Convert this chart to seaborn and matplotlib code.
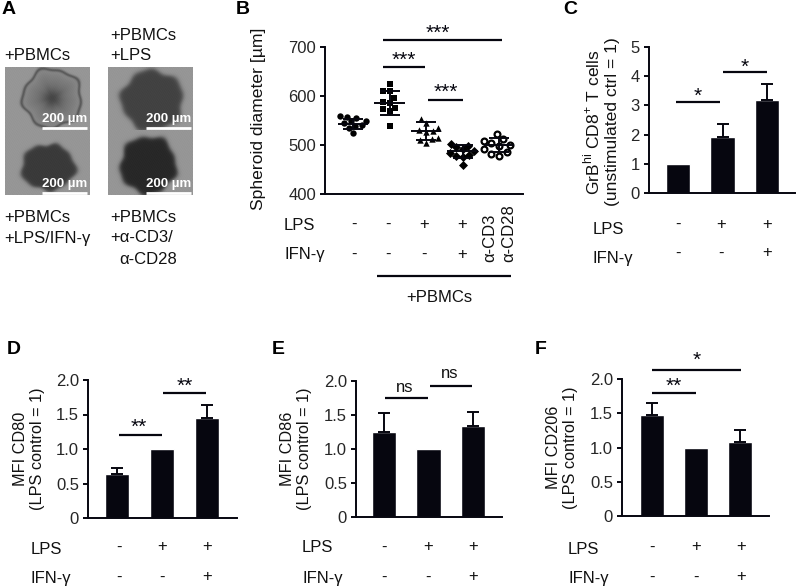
import matplotlib

matplotlib.use("Agg")
import matplotlib.pyplot as plt
import numpy as np
import pandas as pd
import seaborn as sns

# Panel B: spheroid diameters
spheroid_groups = ["ctrl", "pbmc", "lps", "lps_ifn", "cd3_cd28"]
ctrl_um = [560, 558, 556, 550, 548, 545, 540, 538, 535, 525]
pbmc_um = [624, 610, 610, 595, 588, 585, 576, 574, 570, 539]
lps_um = [553, 545, 535, 530, 528, 527, 515, 512, 510, 505]
lps_ifn_um = [503, 498, 495, 492, 488, 483, 480, 478, 476, 460]
cd3_um = [522, 512, 508, 505, 500, 498, 492, 485, 482, 478]
spheroid_means = [543, 586, 528, 487, 500]
spheroid_sds = [10, 25, 18, 14, 14]

# Bar panels: mean and upper error
bar_groups = ["ctrl", "lps", "lps_ifn"]
grb_vals = [1.0, 1.93, 3.2]
grb_err = [0.0, 0.44, 0.54]
cd80_vals = [0.64, 1.0, 1.45]
cd80_err = [0.08, 0.0, 0.19]
cd86_vals = [1.25, 1.0, 1.34]
cd86_err = [0.28, 0.0, 0.21]
cd206_vals = [1.48, 1.0, 1.08]
cd206_err = [0.17, 0.0, 0.17]

lps_row = ["-", "+", "+"]
ifn_row = ["-", "-", "+"]
lps_row_b = ["-", "-", "+", "+"]
ifn_row_b = ["-", "-", "-", "+"]

INK = "#06060f"
FS = 12

sns.set_theme(style="ticks")
plt.rcParams["font.family"] = ["Liberation Sans", "DejaVu Sans"]
plt.rcParams["mathtext.fontset"] = "custom"
plt.rcParams["mathtext.rm"] = "Liberation Sans"
plt.rcParams["axes.edgecolor"] = INK
plt.rcParams["text.color"] = "#111111"

W, H = 796, 588
fig = plt.figure(figsize=(W / 100, H / 100), dpi=100)

# full-figure axes in pixel coordinates for annotations
overlay = fig.add_axes([0, 0, 1, 1])
overlay.axis("off")


def put(x, y, s, size=FS, ha="left", **kw):
    overlay.text(x, y, s, fontsize=size, ha=ha, va="center", **kw)


def rule(x0, x1, y, lw=1.6):
    overlay.plot([x0, x1], [y, y], color=INK, linewidth=lw, solid_capstyle="butt")


def stars(x, y, s):
    # asterisks sit high in the em box, so push them down
    overlay.text(x, y + 3, s, fontsize=15, ha="center", va="center", color=INK)


def panel_axes(left, right, top, bottom):
    ax = fig.add_axes([left / W, 1 - bottom / H, (right - left) / W, (bottom - top) / H])
    ax.patch.set_alpha(0)
    sns.despine(ax=ax)
    for side in ("left", "bottom"):
        ax.spines[side].set_linewidth(1.4)
    ax.tick_params(axis="y", labelsize=FS, length=3.5, width=1.4, color=INK, pad=3)
    ax.tick_params(axis="x", bottom=False, labelbottom=False)
    ax.set_xlabel("")
    return ax


def micrograph(x0, x1, y0, y1, cx, cy, rx, ry, core, rim=False):
    xs, ys = np.meshgrid(np.arange(x0, x1, 0.5), np.arange(y0, y1, 0.5))
    ang = np.arctan2(ys - cy, xs - cx)
    rad = np.hypot((xs - cx) / rx, (ys - cy) / ry)
    rad = rad * (1 + 0.05 * np.sin(5 * ang + cx) + 0.03 * np.sin(9 * ang + cy))
    grain = 9 * np.sin(xs * 2.3 + ys * 1.1) * np.sin(ys * 2.9 - xs * 0.7)
    inside = 0.5 - 0.5 * np.tanh((rad - 1) * 12)
    img = 150 + grain + inside * (core - 150)
    if rim:
        img = img + 30 * np.clip(rad, 0, 1) ** 2 * inside - 55 * np.exp(-((rad - 0.97) / 0.05) ** 2)
        img = img - 40 * np.exp(-(rad / 0.3) ** 2)
    overlay.imshow(img, extent=(x0, x1, y1, y0), cmap="gray", vmin=0, vmax=255, aspect="auto",
                   interpolation="bilinear")


def bar_panel(box, centers, vals, errs, ylabel, label_x, label_y=None, label_size=11.7):
    left, right, top, bottom = box
    ax = panel_axes(left, right, top, bottom)
    df = pd.DataFrame({"group": bar_groups, "value": vals})
    sns.barplot(data=df, x="group", y="value", order=bar_groups, color=INK, saturation=1,
                width=0.55, errorbar=None, ax=ax)
    # the reference bar (err 0) carries no whisker
    with_err = [i for i, e in enumerate(errs) if e > 0]
    ax.errorbar(with_err, [vals[i] for i in with_err],
                yerr=[[0] * len(with_err), [errs[i] for i in with_err]],
                fmt="none", ecolor=INK, elinewidth=1.4, capsize=4, capthick=1.4)
    step = (centers[2] - centers[0]) / 2
    ax.set_xlim((left - centers[0]) / step, (right - centers[0]) / step)
    ax.set_xlabel("")
    ax.set_ylabel("")
    if label_y is None:
        label_y = (top + bottom) / 2
    overlay.text(label_x, label_y, ylabel, rotation=90, fontsize=label_size, ha="center",
                 va="center", linespacing=1.2)
    return ax


# Panel A
micrograph(5, 90, 67, 130, 52, 98, 30, 30, 110, rim=True)
micrograph(108, 193, 67, 130, 152, 100, 31, 30, 66)
micrograph(5, 90, 130, 195, 48, 167, 27, 23, 58)
micrograph(108, 193, 130, 195, 148, 165, 28, 29, 40)
for px, py in [(42, 119), (146, 119), (42, 184), (146, 184)]:
    put(px, py, "200 µm", size=9.5, color="white", fontweight="bold")
    overlay.plot([px, px + 45], [py + 9, py + 9], color="white", linewidth=2, solid_capstyle="butt")
put(4, 55, "+PBMCs")
put(110, 36, "+PBMCs")
put(110, 55, "+LPS")
put(4, 217, "+PBMCs")
put(4, 238, "+LPS/IFN-γ")
put(110, 217, "+PBMCs")
put(110, 238, "+α-CD3/")
put(119, 259, "α-CD28")

# Panel B
ax_b = panel_axes(325, 523, 47, 194)
spheroid = pd.DataFrame(
    {"group": np.repeat(spheroid_groups, 10), "um": ctrl_um + pbmc_um + lps_um + lps_ifn_um + cd3_um}
)
markers = ["o", "s", "^", "D", "o"]
for group, marker in zip(spheroid_groups, markers):
    open_mark = group == "cd3_cd28"
    sns.swarmplot(
        data=spheroid[spheroid["group"] == group], x="group", y="um", order=spheroid_groups,
        marker=marker, size=4.2 if open_mark else 4.6,
        color="white" if open_mark else "black", edgecolor="black",
        linewidth=1.6 if open_mark else 0, ax=ax_b, zorder=2,
    )
ax_b.errorbar(range(5), spheroid_means, yerr=spheroid_sds, fmt="none", ecolor=INK, elinewidth=1.4,
              capsize=7, capthick=1.4, zorder=4)
ax_b.hlines(spheroid_means, np.arange(5) - 0.42, np.arange(5) + 0.42, color=INK, linewidth=1.4, zorder=4)
ax_b.set_ylim(400, 700)
ax_b.set_yticks([400, 500, 600, 700])
ax_b.set_xlim((325 - 353) / 36.5, (523 - 353) / 36.5)
ax_b.set_xlabel("")
ax_b.set_ylabel("")
ax_b.tick_params(axis="x", bottom=False, labelbottom=False)
overlay.text(259, 119, "Spheroid diameter [µm]", rotation=90, fontsize=12.6, ha="center", va="center")
put(284, 226, "LPS")
put(284, 255, "IFN-γ")
for px, lp, ifn in zip([354, 388, 424, 462], lps_row_b, ifn_row_b):
    put(px, 224, lp, ha="center")
    put(px, 254, ifn, ha="center")
for px, txt in zip([490, 509], ["α-CD3", "α-CD28"]):
    overlay.text(px, 262, txt, rotation=90, fontsize=FS, ha="center", va="bottom")
rule(377, 511, 276)
put(439, 297, "+PBMCs", ha="center")
rule(383, 502, 40)
stars(438, 30, "***")
rule(383, 425, 67)
stars(404, 57, "***")
rule(428, 463, 100)
stars(446, 89, "***")

# Panel C
ax_c = bar_panel((649, 795, 47, 193), [678, 722, 767], grb_vals, grb_err,
                 "GrB$^{\\mathrm{hi}}$ CD8$^{+}$ T cells\n(unstimulated ctrl = 1)", 601,
                 label_y=122, label_size=12.6)
ax_c.set_ylim(0, 5)
ax_c.set_yticks(range(6))
rule(676, 720, 102)
stars(698, 93, "*")
rule(723, 767, 72)
stars(745, 64, "*")

# Panels D, E, F
ax_d = bar_panel((88, 237, 380, 518), [117, 162, 207], cd80_vals, cd80_err,
                 "MFI CD80\n(LPS control = 1)", 29)
ax_e = bar_panel((356, 502, 381, 517), [384, 428, 473], cd86_vals, cd86_err,
                 "MFI CD86\n(LPS control = 1)", 296)
ax_f = bar_panel((622, 769, 379, 516), [652, 696, 740], cd206_vals, cd206_err,
                 "MFI CD206\n(LPS control = 1)", 562)
for ax in (ax_d, ax_e, ax_f):
    ax.set_ylim(0, 2)
    ax.set_yticks([0, 0.5, 1, 1.5, 2], ["0", "0.5", "1.0", "1.5", "2.0"])

rule(119, 162, 435)
stars(139, 424, "**")
rule(163, 206, 393)
stars(185, 383, "**")
rule(385, 428, 398)
put(405, 387, "ns", ha="center")
rule(430, 472, 386)
put(450, 374, "ns", ha="center")
rule(652, 696, 393)
stars(674, 383, "**")
rule(652, 741, 370)
stars(697, 357, "*")

# +/- rows under the bars
rows = [
    (593, [678, 721, 767], 229, 224, 258, 253),
    (31, [119, 162, 207], 549, 547, 578, 577),
    (302, [384, 428, 473], 548, 547, 578, 577),
    (568, [652, 696, 741], 550, 547, 578, 577),
]
for label_x, xs, lps_y, lps_sign_y, ifn_y, ifn_sign_y in rows:
    put(label_x, lps_y, "LPS")
    put(label_x, ifn_y, "IFN-γ")
    for px, lp, ifn in zip(xs, lps_row, ifn_row):
        put(px, lps_sign_y, lp, ha="center")
        put(px, ifn_sign_y, ifn, ha="center")

# panel letters
for px, py, letter in [(2, 9, "A"), (236, 9, "B"), (563, 9, "C"), (7, 349, "D"), (272, 350, "E"), (535, 350, "F")]:
    put(px, py, letter, size=14, fontweight="bold", color="black")

overlay.set_xlim(0, W)
overlay.set_ylim(H, 0)

fig.savefig("out.png", dpi=100)
